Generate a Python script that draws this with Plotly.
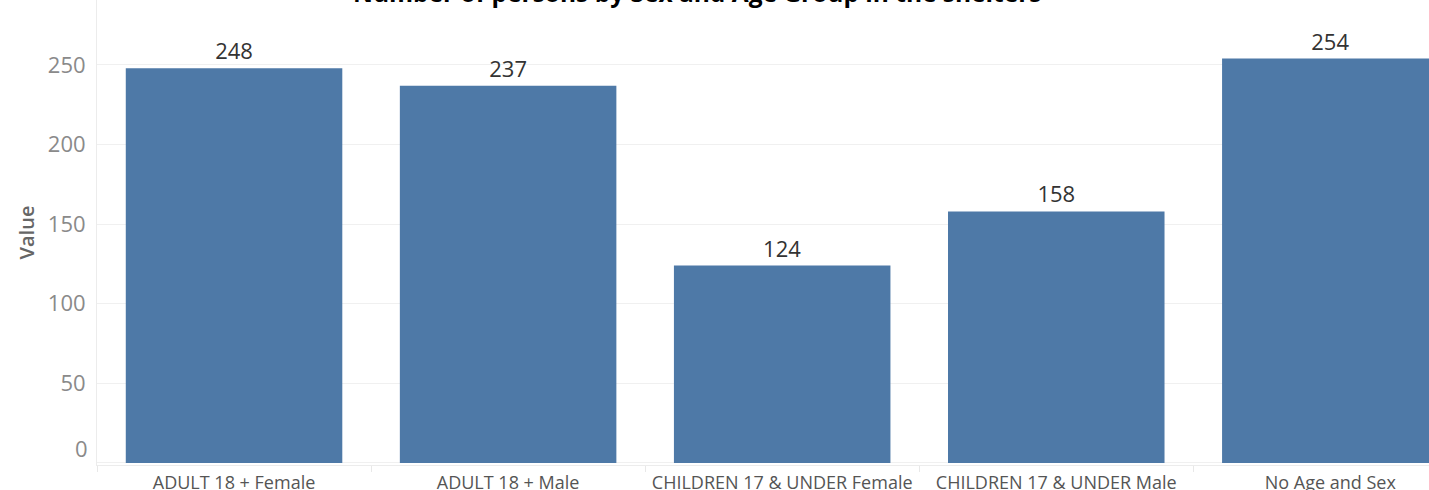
import plotly.graph_objects as go

categories = ["ADULT 18 + Female", "ADULT 18 + Male", "CHILDREN 17 & UNDER Female",
              "CHILDREN 17 & UNDER Male", "No Age and Sex"]
values = [248, 237, 124, 158, 254]
y_ticks = [0, 50, 100, 150, 200, 250]
title_text = "Number of persons by Sex and Age Group in the shelters"

FONT = "Open Sans, Liberation Sans, Arial, sans-serif"

fig = go.Figure(go.Bar(
    x=categories, y=values, marker=dict(color="#4e79a7", line=dict(width=0)),
    width=0.79, text=[str(v) for v in values], textposition="outside",
    textfont=dict(family=FONT, size=22, color="#333333"),
    cliponaxis=False,
))

tick_text = ["" if v == 0 else str(v) for v in y_ticks]

fig.update_layout(
    width=1429, height=490,
    margin=dict(l=97, r=0, t=0, b=25),
    paper_bgcolor="white", plot_bgcolor="white",
    showlegend=False,
    font=dict(family=FONT),
    xaxis=dict(
        range=[-0.5, 4.36], showgrid=False,
        tickfont=dict(family=FONT, size=18, color="#555555"),
        tickangle=0, automargin=False,
        ticks="outside", tickson="boundaries", ticklen=6, tickcolor="#e8e8e8",
        showline=True, linecolor="#ececec", linewidth=1,
        ticklabelstandoff=1,
    ),
    yaxis=dict(
        range=[-1.26, 290.8], tickvals=y_ticks, ticktext=tick_text,
        automargin=False,
        tickfont=dict(family=FONT, size=22, color="#8a8a8a"),
        gridcolor="#f0f0f0", gridwidth=1,
        zeroline=False,
        showline=True, linecolor="#ececec", linewidth=1,
        ticks="", ticklabelstandoff=6,
        title=dict(text="Value", font=dict(family=FONT, size=20, color="#666666", weight=600),
                   standoff=7),
    ),
    annotations=[
        dict(
            text="<b>" + title_text + "</b>", xref="paper", yref="paper",
            x=(697 - 97) / 1332, y=1, xanchor="center", yanchor="bottom", yshift=-11,
            showarrow=False, font=dict(family=FONT, size=24.5, color="#000000"),
        ),
        dict(
            text=str(y_ticks[0]), xref="paper", yref="y", x=0, y=y_ticks[0],
            xanchor="right", yanchor="middle", xshift=-7, yshift=15,
            showarrow=False, font=dict(family=FONT, size=22, color="#8a8a8a"),
        ),
    ],
)

fig.write_html("out.html", config={"displayModeBar": False},
               post_script="document.body.style.margin='0';document.body.style.padding='0';")
